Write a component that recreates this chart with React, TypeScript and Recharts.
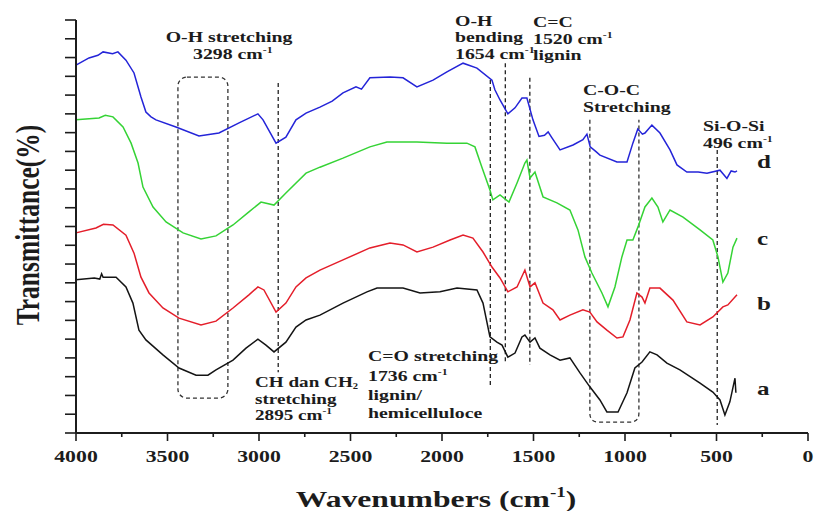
import React from 'react';
import { LineChart, Line, XAxis, YAxis, ReferenceLine, ReferenceArea } from 'recharts';

// Wavenumber axis ticks (cm-1): labelled every 500, minor marks in between
const wavenumberTicks = [4000, 3750, 3500, 3250, 3000, 2750, 2500, 2250, 2000, 1750, 1500, 1250, 1000, 750, 500, 250, 0];
// Transmittance axis ticks (offset spectra, unlabelled)
const transmittanceTicks = [0, 5, 10, 15, 20, 25, 30, 35, 40, 45, 50, 55, 60, 65, 70, 75, 80, 85, 90, 95, 100, 105, 110];

// [wavenumber, transmittance] for each sample
const spectrumD: [number, number][] = [
  [4000, 98.0], [3929, 99.9], [3880, 100.6], [3852, 101.5], [3800, 101.0], [3771, 101.5], [3727, 99.3], [3683, 95.9], [3645, 89.5],
  [3618, 85.5], [3590, 84.2], [3563, 83.4], [3454, 81.5], [3328, 79.1], [3219, 79.9], [3109, 82.6], [3006, 85.0],
  [2978, 83.4], [2907, 77.2], [2853, 78.8], [2798, 83.4], [2743, 85.2], [2667, 86.8], [2600, 88.4], [2541, 90.6],
  [2470, 92.2], [2440, 91.6], [2394, 94.6], [2284, 94.8], [2213, 94.6], [2137, 92.2], [2049, 94.0], [1973, 96.2], [1885, 98.5],
  [1809, 97.2], [1727, 94.0], [1711, 91.4], [1683, 88.7], [1640, 85.0], [1601, 86.6], [1563, 89.2],
  [1536, 89.2], [1503, 83.4], [1470, 79.0], [1440, 79.3], [1420, 80.2], [1399, 78.6], [1355, 75.4],
  [1284, 76.7], [1230, 78.1], [1208, 79.6], [1190, 76.2], [1160, 75.0], [1137, 74.0], [1044, 72.2],
  [989, 72.2], [957, 77.2], [930, 81.0], [905, 79.6], [891, 79.9], [853, 82.0], [809, 79.9], [754, 75.4],
  [716, 71.4], [662, 69.5], [600, 69.5], [552, 69.2], [481, 70.0], [443, 67.8], [420, 69.8], [399, 69.5], [388, 69.8],
];

const spectrumC: [number, number][] = [
  [4000, 83.4], [3874, 83.9], [3840, 84.6], [3798, 84.2], [3743, 81.5], [3699, 77.2], [3661, 71.9], [3634, 65.5],
  [3579, 60.2], [3508, 56.2], [3415, 53.3], [3317, 51.7], [3235, 52.5], [3142, 55.4], [3055, 58.9],
  [2989, 61.5], [2918, 60.7], [2853, 63.9], [2743, 69.2], [2667, 70.8], [2541, 73.2], [2394, 76.2],
  [2301, 77.5], [2137, 77.5], [1973, 77.2], [1864, 77.2], [1820, 76.2], [1782, 70.8], [1738, 64.7],
  [1722, 62.1], [1683, 63.4], [1634, 61.5], [1590, 66.6], [1547, 71.9], [1536, 72.7], [1519, 67.9],
  [1492, 69.5], [1448, 62.9], [1372, 61.3], [1301, 59.4], [1257, 54.1], [1219, 46.9], [1181, 42.6],
  [1126, 37.3], [1093, 33.6], [1055, 38.9], [1017, 46.9], [989, 51.4], [957, 51.4], [929, 54.9],
  [891, 60.2], [853, 62.6], [820, 60.2], [793, 56.2], [754, 59.4], [683, 57.5], [590, 54.1],
  [520, 51.4], [492, 46.9], [465, 40.2], [438, 42.6], [410, 49.5], [388, 51.9],
];

const spectrumB: [number, number][] = [
  [4000, 53.3], [3891, 54.6], [3850, 55.6], [3798, 55.4], [3727, 52.7], [3683, 47.9], [3645, 41.5], [3601, 37.3],
  [3525, 33.3], [3437, 30.6], [3317, 28.8], [3235, 29.8], [3142, 33.3], [3055, 36.8], [3006, 38.9],
  [2973, 38.1], [2907, 32.2], [2853, 34.6], [2798, 38.9], [2743, 41.3], [2667, 43.4], [2541, 46.1],
  [2394, 49.3], [2284, 50.6], [2213, 50.1], [2137, 48.2], [2049, 49.5], [1956, 51.4], [1885, 52.7],
  [1831, 51.9], [1776, 48.2], [1727, 44.2], [1683, 41.3], [1640, 37.6], [1590, 38.9], [1547, 43.4],
  [1519, 38.9], [1492, 40.0], [1448, 34.6], [1394, 32.8], [1355, 30.1], [1301, 31.4], [1230, 32.8],
  [1192, 32.2], [1153, 29.6], [1099, 27.4], [1044, 25.3], [1011, 25.6], [973, 30.1], [935, 37.3],
  [907, 36.2], [891, 34.6], [864, 38.6], [809, 38.6], [738, 35.4], [662, 29.6], [590, 28.8],
  [520, 30.9], [465, 33.6], [438, 34.1], [388, 36.8],
];

const spectrumA: [number, number][] = [
  [4000, 40.8], [3900, 41.3], [3870, 41.0], [3860, 42.4], [3852, 41.5], [3781, 41.5], [3727, 38.9], [3689, 34.6], [3656, 27.4], [3618, 24.8],
  [3525, 20.8], [3437, 17.3], [3344, 15.4], [3279, 15.4], [3235, 16.8], [3142, 19.4], [3071, 22.6],
  [3006, 25.0], [2962, 23.4], [2918, 21.6], [2853, 24.2], [2798, 28.2], [2743, 30.1], [2667, 31.4],
  [2541, 34.6], [2410, 37.6], [2355, 38.6], [2213, 38.6], [2120, 37.3], [2011, 37.6], [1918, 38.6],
  [1809, 38.1], [1776, 34.6], [1738, 25.6], [1700, 24.2], [1672, 23.4], [1640, 20.2], [1601, 21.3],
  [1563, 25.6], [1547, 26.1], [1519, 24.2], [1492, 25.3], [1465, 22.6], [1410, 20.8], [1355, 19.4],
  [1301, 20.0], [1246, 16.0], [1192, 12.3], [1137, 8.8], [1099, 5.6], [1038, 5.6], [989, 10.7],
  [946, 17.3], [907, 18.9], [864, 21.6], [825, 20.8], [771, 18.6], [700, 16.8], [590, 13.3],
  [520, 10.9], [481, 8.8], [454, 4.8], [427, 8.3], [399, 14.6], [394, 10.7],
];

const toRows = (pts: [number, number][]) => pts.map(([w, t]) => ({ w, t }));

const INK = '#1c1c1c';
const STRETCH = 1.32;
const FONT = "'Liberation Serif', 'Times New Roman', serif";

function Label({ x, y, size = 15, anchor = 'start', children }: any) {
  return (
    <text
      transform={`translate(${x} ${y}) scale(${STRETCH} 1)`}
      fontFamily={FONT}
      fontWeight="bold"
      fontSize={size}
      fill={INK}
      textAnchor={anchor}
    >
      {children}
    </text>
  );
}

function Sup({ size = 15, children }: any) {
  return (
    <tspan fontSize={size * 0.6} dy={-size * 0.4}>
      {children}
    </tspan>
  );
}

function XTick({ x, y, payload }: any) {
  const v = payload.value;
  const major = v % 500 === 0;
  return (
    <g>
      <line x1={x} x2={x} y1={y} y2={y + (major ? 8 : 4)} stroke={INK} strokeWidth={1.6} />
      {major && (
        <Label x={x} y={y + 29} size={16.5} anchor="middle">
          {v}
        </Label>
      )}
    </g>
  );
}

function YTick({ x, y }: any) {
  return <line x1={x - 11} x2={x} y1={y} y2={y} stroke={INK} strokeWidth={1.6} />;
}

// rounded dashed frame around the O-H band
function RoundedBox(props: any) {
  const { x, y, width, height } = props;
  return (
    <rect x={x} y={y} width={width} height={height} rx={9} ry={9} fill="none" stroke="#333" strokeWidth={1.3} strokeDasharray="4 3" />
  );
}

// open-topped dashed bracket around the C-O-C band
function OpenBracket(props: any) {
  const { x, y, width, height } = props;
  const r = 9;
  const b = y + height;
  const d = `M${x},${y} L${x},${b - r} Q${x},${b} ${x + r},${b} L${x + width - r},${b} Q${x + width},${b} ${x + width},${b - r} L${x + width},${y}`;
  return <path d={d} fill="none" stroke="#333" strokeWidth={1.3} strokeDasharray="4 3" />;
}

const dash = { stroke: '#222', strokeWidth: 1.3, strokeDasharray: '4 3' };

export default function App() {
  return (
    <div style={{ position: 'fixed', left: 0, top: 0, width: 816, height: 511, overflow: 'hidden', background: '#fff' }}>
      <LineChart width={816} height={511} margin={{ top: 20, right: 8, bottom: 0, left: 16 }}>
        <XAxis
          type="number"
          dataKey="w"
          domain={[0, 4000]}
          reversed
          ticks={wavenumberTicks}
          interval={0}
          height={78}
          tickSize={0}
          tickMargin={0}
          tickLine={false}
          tick={<XTick />}
          axisLine={{ stroke: INK, strokeWidth: 2 }}
        />
        <YAxis
          type="number"
          domain={[0, 110]}
          ticks={transmittanceTicks}
          interval={0}
          width={60}
          tickSize={0}
          tickMargin={0}
          tickLine={false}
          tick={<YTick />}
          axisLine={{ stroke: INK, strokeWidth: 2 }}
        />

        <ReferenceArea x1={3443} x2={3170} y1={9.3} y2={94.8} shape={RoundedBox} ifOverflow="visible" />
        <ReferenceArea x1={1192} x2={924} y1={2.9} y2={83.4} shape={OpenBracket} ifOverflow="visible" />
        <ReferenceLine segment={[{ x: 2895, y: 93.2 }, { x: 2895, y: 16.2 }]} {...dash} />
        <ReferenceLine segment={[{ x: 1736, y: 94.0 }, { x: 1736, y: 12.0 }]} {...dash} />
        <ReferenceLine segment={[{ x: 1654, y: 98.5 }, { x: 1654, y: 18.6 }]} {...dash} />
        <ReferenceLine segment={[{ x: 1520, y: 94.6 }, { x: 1520, y: 18.1 }]} {...dash} />
        <ReferenceLine segment={[{ x: 496, y: 75.4 }, { x: 496, y: 2.1 }]} {...dash} />

        <Line data={toRows(spectrumD)} dataKey="t" type="linear" dot={false} stroke="#2424d8" strokeWidth={1.5} isAnimationActive={false} />
        <Line data={toRows(spectrumC)} dataKey="t" type="linear" dot={false} stroke="#35d335" strokeWidth={1.5} isAnimationActive={false} />
        <Line data={toRows(spectrumB)} dataKey="t" type="linear" dot={false} stroke="#e41e2a" strokeWidth={1.5} isAnimationActive={false} />
        <Line data={toRows(spectrumA)} dataKey="t" type="linear" dot={false} stroke="#141414" strokeWidth={1.5} isAnimationActive={false} />
      </LineChart>

      <svg width={816} height={511} style={{ position: 'absolute', left: 0, top: 0, pointerEvents: 'none' }}>
        <Label x={229} y={42} anchor="middle">O-H stretching</Label>
        <Label x={193} y={59}>3298 cm<Sup>-1</Sup></Label>

        <Label x={455} y={26}>O-H</Label>
        <Label x={455} y={42}>bending</Label>
        <Label x={455} y={59}>1654 cm<Sup>-1</Sup></Label>

        <Label x={533} y={27}>C=C</Label>
        <Label x={533} y={44}>1520 cm<Sup>-1</Sup></Label>
        <Label x={533} y={60}>lignin</Label>

        <Label x={583} y={95}>C-O-C</Label>
        <Label x={583} y={112}>Stretching</Label>

        <Label x={703} y={131}>Si-O-Si</Label>
        <Label x={703} y={148}>496 cm<Sup>-1</Sup></Label>

        <Label x={255} y={387} size={14.5}>CH dan CH<tspan fontSize={8} dy={1.5}>2</tspan></Label>
        <Label x={255} y={404} size={14.5}>stretching</Label>
        <Label x={255} y={420} size={14.5}>2895 cm<Sup size={14.5}>-1</Sup></Label>

        <Label x={368} y={361}>C=O stretching</Label>
        <Label x={368} y={381}>1736 cm<Sup>-1</Sup></Label>
        <Label x={368} y={400}>lignin/</Label>
        <Label x={368} y={418}>hemicelluloce</Label>

        <Label x={757} y={168} size={19}>d</Label>
        <Label x={757} y={245} size={19}>c</Label>
        <Label x={757} y={310} size={19}>b</Label>
        <Label x={757} y={395} size={19}>a</Label>

        <Label x={436} y={507} size={24} anchor="middle">
          Wavenumbers (cm<Sup size={24}>-1</Sup><tspan dy={24 * 0.4}>)</tspan>
        </Label>
        <text
          transform={`translate(39 225) rotate(-90) scale(1 ${STRETCH})`}
          fontFamily={FONT}
          fontWeight="bold"
          fontSize={25.5}
          fill={INK}
          textAnchor="middle"
        >
          Transmittance(%)
        </text>
      </svg>
    </div>
  );
}
